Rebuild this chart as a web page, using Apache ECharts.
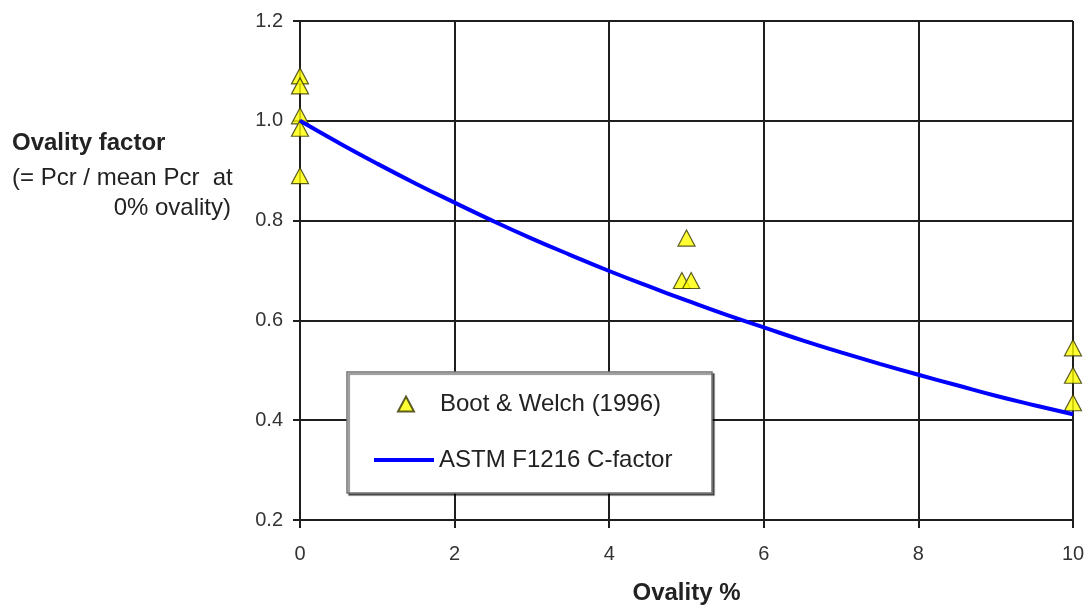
<!DOCTYPE html>
<html>
<head>
<meta charset="utf-8">
<script src="https://cdn.jsdelivr.net/npm/echarts@6/dist/echarts.min.js"></script>
<style>
  html, body { margin: 0; padding: 0; background: #fff; }
  #chart { width: 1088px; height: 608px; }
</style>
</head>
<body>
<div id="chart"></div>
<script>
// Test results: ovality (%) and normalised collapse pressure
const bootWelchOvality = [0, 0, 0, 0, 0, 4.94, 5.06, 5, 10, 10, 10];
const bootWelchFactor  = [1.09, 1.07, 1.01, 0.985, 0.89, 0.68, 0.68, 0.765, 0.545, 0.49, 0.435];

// ASTM F1216 ovality reduction factor, tabulated every 0.5 %
const astmOvality = [0, 0.5, 1, 1.5, 2, 2.5, 3, 3.5, 4, 4.5, 5, 5.5, 6, 6.5, 7, 7.5, 8, 8.5, 9, 9.5, 10];
const astmFactor  = [1.000, 0.956, 0.914, 0.874, 0.836, 0.799, 0.764, 0.731, 0.699, 0.669, 0.640,
                     0.612, 0.586, 0.560, 0.536, 0.513, 0.491, 0.470, 0.449, 0.430, 0.412];

const seriesNames = ['Boot & Welch (1996)', 'ASTM F1216 C-factor'];
const xTitle = 'Ovality %';
const yTitleLines = ['Ovality factor', '(= Pcr / mean Pcr  at', '0% ovality)'];

const FONT = '"Liberation Sans", Arial, sans-serif';
const GRID_COLOR = '#1e1e1e';
const legendText = { fontFamily: FONT, fontSize: 24, color: '#222' };

const chart = echarts.init(document.getElementById('chart'), null, { renderer: 'canvas' });

chart.setOption({
  backgroundColor: '#ffffff',
  animation: false,
  textStyle: { fontFamily: FONT },
  grid: { left: 300, right: 15, top: 21, bottom: 88, containLabel: false, outerBoundsMode: 'none' },
  xAxis: {
    type: 'value',
    min: 0, max: 10, interval: 2,
    name: xTitle,
    nameLocation: 'middle',
    nameGap: 61,
    nameTextStyle: { fontFamily: FONT, fontWeight: 'bold', fontSize: 24, color: '#222' },
    axisLine: { show: true, onZero: false, lineStyle: { color: GRID_COLOR, width: 2 } },
    axisTick: { show: true, inside: false, length: 8, lineStyle: { color: GRID_COLOR, width: 2 } },
    axisLabel: { margin: 24, fontSize: 20, color: '#333', fontFamily: FONT },
    splitLine: { show: true, lineStyle: { color: GRID_COLOR, width: 2 } }
  },
  yAxis: {
    type: 'value',
    min: 0.2, max: 1.2, interval: 0.2,
    axisLine: { show: true, onZero: false, lineStyle: { color: GRID_COLOR, width: 2 } },
    axisTick: { show: true, inside: false, length: 7, lineStyle: { color: GRID_COLOR, width: 2 } },
    axisLabel: { margin: 17, fontSize: 20, color: '#333', fontFamily: FONT,
                 formatter: v => v.toFixed(1) },
    splitLine: { show: true, lineStyle: { color: GRID_COLOR, width: 2 } }
  },
  legend: [
    {
      // triangle marker entry
      left: 397, top: 392, padding: 0,
      itemWidth: 16, itemHeight: 15, z: 5,
      textStyle: Object.assign({ padding: [0, 0, 0, 21] }, legendText),
      data: [{ name: seriesNames[0], icon: 'triangle' }]
    },
    {
      // line entry
      left: 374, top: 448, padding: 0,
      itemWidth: 60, itemHeight: 4, z: 5,
      textStyle: legendText,
      data: [{ name: seriesNames[1], icon: 'rect' }]
    }
  ],
  graphic: [
    // legend frame
    {
      type: 'rect', z: 3,
      shape: { x: 347, y: 372, width: 365, height: 121 },
      style: { fill: '#ffffff', stroke: '#707070', lineWidth: 1.5,
               shadowColor: 'rgba(0,0,0,0.55)', shadowOffsetX: 2, shadowOffsetY: 2, shadowBlur: 1 }
    },
    // y-axis title block
    {
      type: 'text', left: 12, top: 131,
      style: { text: yTitleLines[0], font: 'bold 24px ' + FONT, fill: '#222' }
    },
    {
      type: 'text', left: 12, top: 166,
      style: { text: yTitleLines[1], font: '24px ' + FONT, fill: '#222' }
    },
    {
      type: 'text', right: 1088 - 231, top: 196,
      style: { text: yTitleLines[2], font: '24px ' + FONT, fill: '#222', textAlign: 'right' }
    }
  ],
  series: [
    {
      name: seriesNames[0],
      type: 'scatter',
      z: 2,
      clip: false,
      symbol: 'triangle',
      symbolSize: [17, 16],
      itemStyle: { color: '#ffff00', borderColor: '#333300', borderWidth: 1.2 },
      data: bootWelchOvality.map((x, i) => [x, bootWelchFactor[i]])
    },
    {
      name: seriesNames[1],
      type: 'line',
      z: 3,
      smooth: true,
      symbol: 'none',
      showSymbol: false,
      clip: false,
      lineStyle: { color: '#0000ff', width: 4 },
      itemStyle: { color: '#0000ff' },
      data: astmOvality.map((x, i) => [x, astmFactor[i]])
    }
  ]
});
</script>
</body>
</html>
